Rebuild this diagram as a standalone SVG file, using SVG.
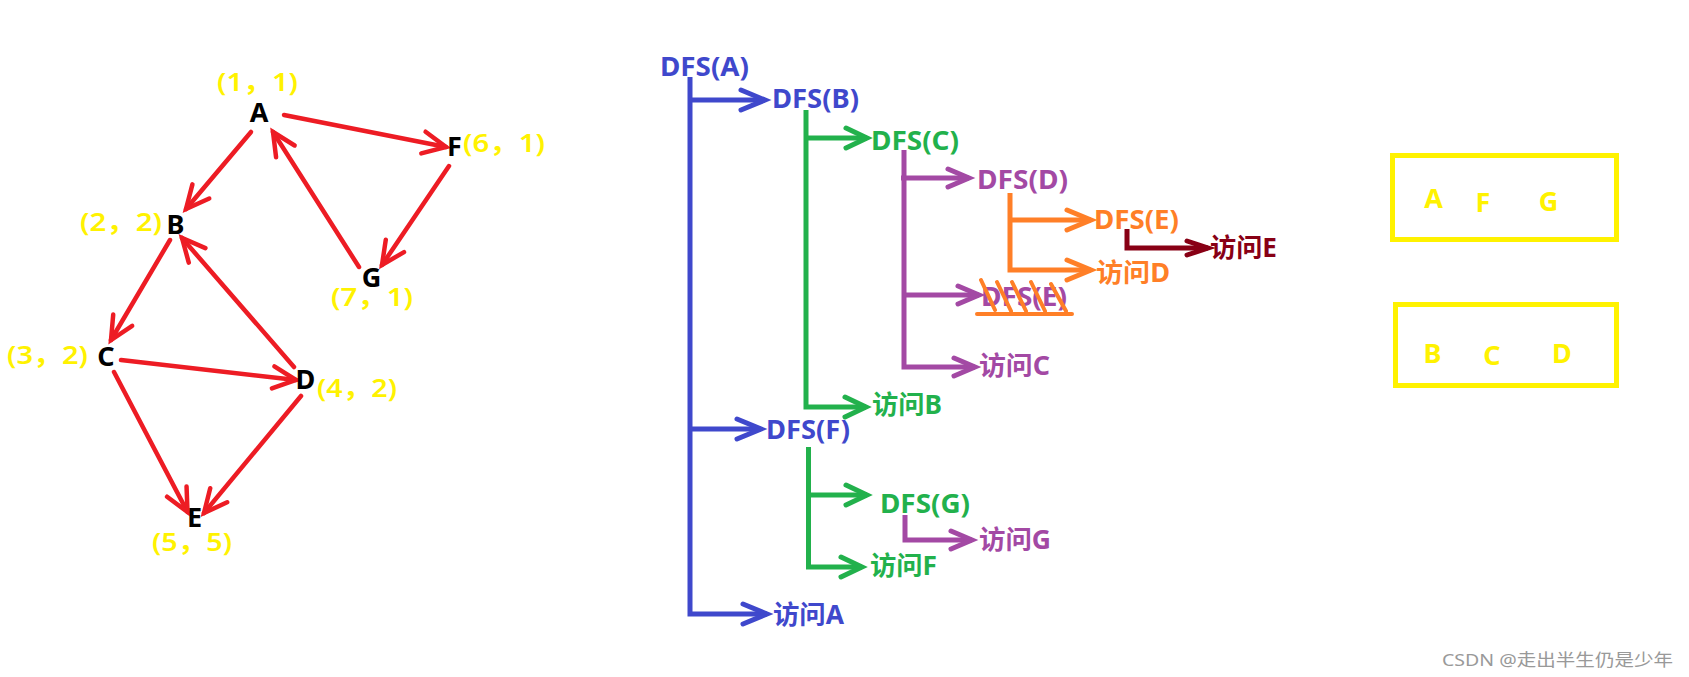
<svg xmlns="http://www.w3.org/2000/svg" width="1689" height="677" viewBox="0 0 1689 677">
<style>
text{font-family:"Noto Sans","Noto Sans CJK SC",sans-serif}
.node{font-size:27px;font-weight:bold;fill:#000;text-anchor:middle}
.coord{font-size:25px;font-weight:600;fill:#fff200}
.lbl{font-size:26px;font-weight:bold}
.box{fill:none;stroke:#fff200;stroke-width:5}
.boxt{font-size:27px;font-weight:bold;fill:#fff200;text-anchor:middle}
.red{fill:none;stroke:#ed1c24;stroke-width:4.5;stroke-linecap:round;marker-end:url(#mRed)}
.t{fill:none;stroke-width:5;stroke-linejoin:miter}
.blue{stroke:#3f48cc;marker-end:url(#mBlue)}
.green{stroke:#22b14c;marker-end:url(#mGreen)}
.purple{stroke:#a349a4;marker-end:url(#mPurple)}
.orange{stroke:#ff7f27;marker-end:url(#mOrange)}
.dred{stroke:#880015;marker-end:url(#mDred)}
.hatch{fill:none;stroke:#ff7f27;stroke-width:4;stroke-linecap:round}
</style>
<defs>
<marker id="mRed" markerUnits="userSpaceOnUse" orient="auto" refX="0" refY="0" markerWidth="40" markerHeight="40" overflow="visible"><path d="M-23,-11 L0,0 L-23,11" fill="none" stroke="#ed1c24" stroke-width="4.5" stroke-linecap="round"/></marker>
<marker id="mBlue" markerUnits="userSpaceOnUse" orient="auto" refX="0" refY="0" markerWidth="40" markerHeight="40" overflow="visible"><path d="M-24,-10 L0,0 L-24,10" fill="none" stroke="#3f48cc" stroke-width="5" stroke-linecap="round"/></marker>
<marker id="mGreen" markerUnits="userSpaceOnUse" orient="auto" refX="0" refY="0" markerWidth="40" markerHeight="40" overflow="visible"><path d="M-21,-10 L0,0 L-21,10" fill="none" stroke="#22b14c" stroke-width="5" stroke-linecap="round"/></marker>
<marker id="mPurple" markerUnits="userSpaceOnUse" orient="auto" refX="0" refY="0" markerWidth="40" markerHeight="40" overflow="visible"><path d="M-21,-9 L0,0 L-21,9" fill="none" stroke="#a349a4" stroke-width="5" stroke-linecap="round"/></marker>
<marker id="mOrange" markerUnits="userSpaceOnUse" orient="auto" refX="0" refY="0" markerWidth="40" markerHeight="40" overflow="visible"><path d="M-24,-10 L0,0 L-24,10" fill="none" stroke="#ff7f27" stroke-width="5" stroke-linecap="round"/></marker>
<marker id="mDred" markerUnits="userSpaceOnUse" orient="auto" refX="0" refY="0" markerWidth="40" markerHeight="40" overflow="visible"><path d="M-21,-7 L0,0 L-21,7" fill="none" stroke="#880015" stroke-width="5" stroke-linecap="round"/></marker>
</defs>
<rect width="1689" height="677" fill="#fff"/>

<!-- graph connectors -->
<g id="graph-edges">
<line class="red" x1="251" y1="132" x2="186" y2="209"/>
<line class="red" x1="284" y1="115" x2="446" y2="147"/>
<line class="red" x1="449" y1="166" x2="382" y2="265"/>
<line class="red" x1="359" y1="267" x2="273" y2="132"/>
<line class="red" x1="170" y1="240" x2="111" y2="340"/>
<line class="red" x1="294" y1="367" x2="182" y2="238"/>
<line class="red" x1="121" y1="360" x2="296" y2="380"/>
<line class="red" x1="114" y1="372" x2="187.5" y2="512"/>
<line class="red" x1="301" y1="396" x2="204" y2="513"/>
</g>

<!-- graph nodes -->
<g id="node-A"><text class="node" x="259" y="122">A</text><text class="coord" x="217" y="91" textLength="81" lengthAdjust="spacingAndGlyphs">(1，1)</text></g>
<g id="node-F"><text class="node" x="454.5" y="156">F</text><text class="coord" x="463" y="152" textLength="82" lengthAdjust="spacingAndGlyphs">(6，1)</text></g>
<g id="node-B"><text class="node" x="175.5" y="234">B</text><text class="coord" x="80" y="231" textLength="82" lengthAdjust="spacingAndGlyphs">(2，2)</text></g>
<g id="node-G"><text class="node" x="371.5" y="287">G</text><text class="coord" x="331" y="306" textLength="82" lengthAdjust="spacingAndGlyphs">(7，1)</text></g>
<g id="node-C"><text class="node" x="106" y="366">C</text><text class="coord" x="7" y="364" textLength="81" lengthAdjust="spacingAndGlyphs">(3，2)</text></g>
<g id="node-D"><text class="node" x="305.5" y="389">D</text><text class="coord" x="317" y="397" textLength="80" lengthAdjust="spacingAndGlyphs">(4，2)</text></g>
<g id="node-E"><text class="node" x="194.5" y="527">E</text><text class="coord" x="152" y="551" textLength="80" lengthAdjust="spacingAndGlyphs">(5，5)</text></g>

<!-- DFS tree connectors -->
<g id="tree-connectors">
<path class="t blue" d="M690,77 V614 H767"/>
<path class="t blue" d="M690,100 H765"/>
<path class="t blue" d="M690,429 H761"/>
<path class="t green" d="M806,110 V407 H866"/>
<path class="t green" d="M806,138 H867"/>
<path class="t green" d="M808.5,447 V567 H862"/>
<path class="t green" d="M808.5,495 H867"/>
<path class="t purple" d="M904,150 V367 H975"/>
<path class="t purple" d="M901,178 H969"/>
<path class="t purple" d="M904,295 H979"/>
<path class="t purple" d="M905,515 V540 H972"/>
<path class="t orange" d="M1010,193 V270 H1091"/>
<path class="t orange" d="M1010,220 H1091"/>
<path class="t dred" d="M1127,229 V248 H1208"/>
</g>

<!-- DFS tree nodes -->
<g id="dfs-A"><text class="lbl" x="660" y="76" textLength="89" lengthAdjust="spacingAndGlyphs" fill="#3f48cc">DFS(A)</text></g>
<g id="dfs-B"><text class="lbl" x="772" y="108" textLength="87" lengthAdjust="spacingAndGlyphs" fill="#3f48cc">DFS(B)</text></g>
<g id="dfs-C"><text class="lbl" x="871" y="150" textLength="88" lengthAdjust="spacingAndGlyphs" fill="#22b14c">DFS(C)</text></g>
<g id="dfs-D"><text class="lbl" x="977" y="189" textLength="91" lengthAdjust="spacingAndGlyphs" fill="#a349a4">DFS(D)</text></g>
<g id="dfs-E"><text class="lbl" x="1094" y="229" textLength="85" lengthAdjust="spacingAndGlyphs" fill="#ff7f27">DFS(E)</text></g>
<g id="visit-E"><text class="lbl" x="1210" y="257" textLength="67" lengthAdjust="spacingAndGlyphs" fill="#880015">访问E</text></g>
<g id="visit-D"><text class="lbl" x="1096" y="282" textLength="74" lengthAdjust="spacingAndGlyphs" fill="#ff7f27">访问D</text></g>
<g id="dfs-E-struck">
<text class="lbl" x="981" y="306" textLength="86" lengthAdjust="spacingAndGlyphs" fill="#a349a4">DFS(E)</text>
<path class="hatch" d="M981,280 L995,310 M997,282 L1011,311 M1012,282 L1026,311 M1031,282 L1045,311 M1051,284 L1066,311 M977,314 H1072"/>
</g>
<g id="visit-C"><text class="lbl" x="979" y="375" textLength="71" lengthAdjust="spacingAndGlyphs" fill="#a349a4">访问C</text></g>
<g id="visit-B"><text class="lbl" x="872" y="414" textLength="70" lengthAdjust="spacingAndGlyphs" fill="#22b14c">访问B</text></g>
<g id="dfs-F"><text class="lbl" x="766" y="439" textLength="84" lengthAdjust="spacingAndGlyphs" fill="#3f48cc">DFS(F)</text></g>
<g id="dfs-G"><text class="lbl" x="880" y="513" textLength="90" lengthAdjust="spacingAndGlyphs" fill="#22b14c">DFS(G)</text></g>
<g id="visit-G"><text class="lbl" x="979" y="549" textLength="72" lengthAdjust="spacingAndGlyphs" fill="#a349a4">访问G</text></g>
<g id="visit-F"><text class="lbl" x="870" y="575" textLength="67" lengthAdjust="spacingAndGlyphs" fill="#22b14c">访问F</text></g>
<g id="visit-A"><text class="lbl" x="773" y="624" textLength="71" lengthAdjust="spacingAndGlyphs" fill="#3f48cc">访问A</text></g>

<!-- boxes -->
<g id="box-AFG">
<rect class="box" x="1392.5" y="155.5" width="224" height="84"/>
<text class="boxt" x="1433.5" y="208">A</text>
<text class="boxt" x="1483" y="212">F</text>
<text class="boxt" x="1548.5" y="211">G</text>
</g>
<g id="box-BCD">
<rect class="box" x="1395.5" y="304.5" width="221" height="81"/>
<text class="boxt" x="1432.5" y="363">B</text>
<text class="boxt" x="1492" y="365">C</text>
<text class="boxt" x="1562" y="363">D</text>
</g>

<text x="1442" y="666" font-size="17" fill="#999" textLength="231" lengthAdjust="spacingAndGlyphs">CSDN @走出半生仍是少年</text>
</svg>
